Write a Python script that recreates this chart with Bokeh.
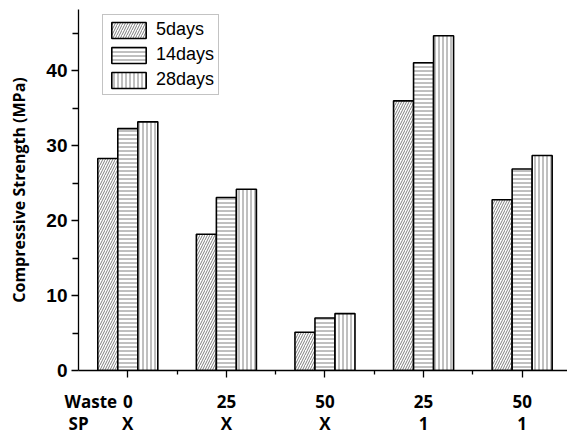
from bokeh.plotting import figure
from bokeh.models import Range1d, Legend, LegendItem, FixedTicker, ColumnDataSource, LinearAxis
from bokeh.embed import file_html
from bokeh.resources import INLINE

groups = [0, 1, 2, 3, 4]
waste = ["0", "25", "50", "25", "50"]
sp = ["X", "X", "X", "1", "1"]
series = ["5days", "14days", "28days"]
d5 = [28.3, 18.2, 5.1, 36.0, 22.8]
d14 = [32.3, 23.1, 7.0, 41.1, 26.9]
d28 = [33.2, 24.2, 7.6, 44.7, 28.7]
y_ticks = [0, 10, 20, 30, 40]
row_names = ["Waste", "SP"]

p = figure(frame_width=489, frame_height=361, output_backend="svg", toolbar_location=None,
           x_range=Range1d(-0.5, 4.46), y_range=Range1d(0, 48.2),
           min_border_left=78, min_border_right=0, min_border_top=9, min_border_bottom=2)
p.outline_line_color = None
p.grid.grid_line_color = None

bw = 0.203
offsets = [-bw, 0, bw]
hatches = ["right_diagonal_line", "horizontal_line", "vertical_line"]
scales = [5, 4, 4]
renderers = []
for vals, off, hp, sc in zip([d5, d14, d28], offsets, hatches, scales):
    src = ColumnDataSource(dict(x=[g + off for g in groups], top=vals))
    r = p.vbar(x="x", top="top", width=bw, bottom=0, source=src,
               fill_color="white", line_color="black", line_width=1.6,
               hatch_pattern=hp, hatch_scale=sc, hatch_color="#707070", hatch_weight=0.9)
    renderers.append(r)

legend = Legend(items=[LegendItem(label=s, renderers=[r]) for s, r in zip(series, renderers)],
                location=(24, 275), glyph_width=43, glyph_height=20, spacing=4,
                padding=4, margin=0, label_standoff=6,
                label_text_font="Liberation Sans", label_text_font_size="18px",
                label_text_color="black", border_line_color="#888888", border_line_width=1,
                background_fill_color="white", background_fill_alpha=1)
p.add_layout(legend)

# y axis
p.yaxis.ticker = FixedTicker(ticks=y_ticks, minor_ticks=[5, 15, 25, 35, 45])
p.yaxis.axis_line_color = "black"
p.yaxis.axis_line_width = 1.3
p.yaxis.major_tick_in = 0
p.yaxis.major_tick_out = 7
p.yaxis.minor_tick_in = 0
p.yaxis.minor_tick_out = 6
p.yaxis.major_tick_line_width = 1.3
p.yaxis.minor_tick_line_width = 1.3
p.yaxis.major_label_text_font = "Liberation Sans"
p.yaxis.major_label_text_font_style = "bold"
p.yaxis.major_label_text_font_size = "19px"
p.yaxis.major_label_text_color = "black"
p.yaxis.major_label_standoff = 4
p.yaxis.axis_label = "Compressive Strength (MPa)"
p.yaxis.axis_label_text_font = "Open Sans"
p.yaxis.axis_label_text_font_style = "bold"
p.yaxis.axis_label_text_font_size = "16px"
p.yaxis.axis_label_text_color = "black"
p.yaxis.axis_label_standoff = 13

# x axis: line and tick marks only
xa = p.xaxis[0]
xa.ticker = FixedTicker(ticks=groups, minor_ticks=[0.5, 1.5, 2.5, 3.5])
xa.major_label_overrides = {g: "" for g in groups}
xa.major_label_text_font_size = "0px"
xa.major_label_standoff = 0
xa.axis_line_color = "black"
xa.axis_line_width = 1.3
xa.major_tick_in = 0
xa.major_tick_out = 7
xa.minor_tick_in = 0
xa.minor_tick_out = 4
xa.major_tick_line_width = 1.3
xa.minor_tick_line_width = 1.3

# second bottom axis: the two rows of category labels, with the row names at the left
row_x = [-0.375, -0.499]
row_labels = {row_x[0]: row_names[0] + "\n\u00a0", row_x[1]: "\u00a0\n" + row_names[1]}
lab_ticks = row_x + groups
overrides = dict(row_labels)
overrides.update({g: f"{w}\n{s}" for g, w, s in zip(groups, waste, sp)})
la = LinearAxis(ticker=FixedTicker(ticks=lab_ticks, minor_ticks=[]),
                major_label_overrides=overrides,
                axis_line_color=None, major_tick_out=0, major_tick_in=0,
                minor_tick_out=0, minor_tick_in=0,
                major_label_text_font="Open Sans", major_label_text_font_style="bold",
                major_label_text_font_size="17px", major_label_text_color="black",
                major_label_text_line_height=0.96, major_label_standoff=12)
p.add_layout(la, "below")

open("out.html", "w").write(file_html(p, INLINE))
